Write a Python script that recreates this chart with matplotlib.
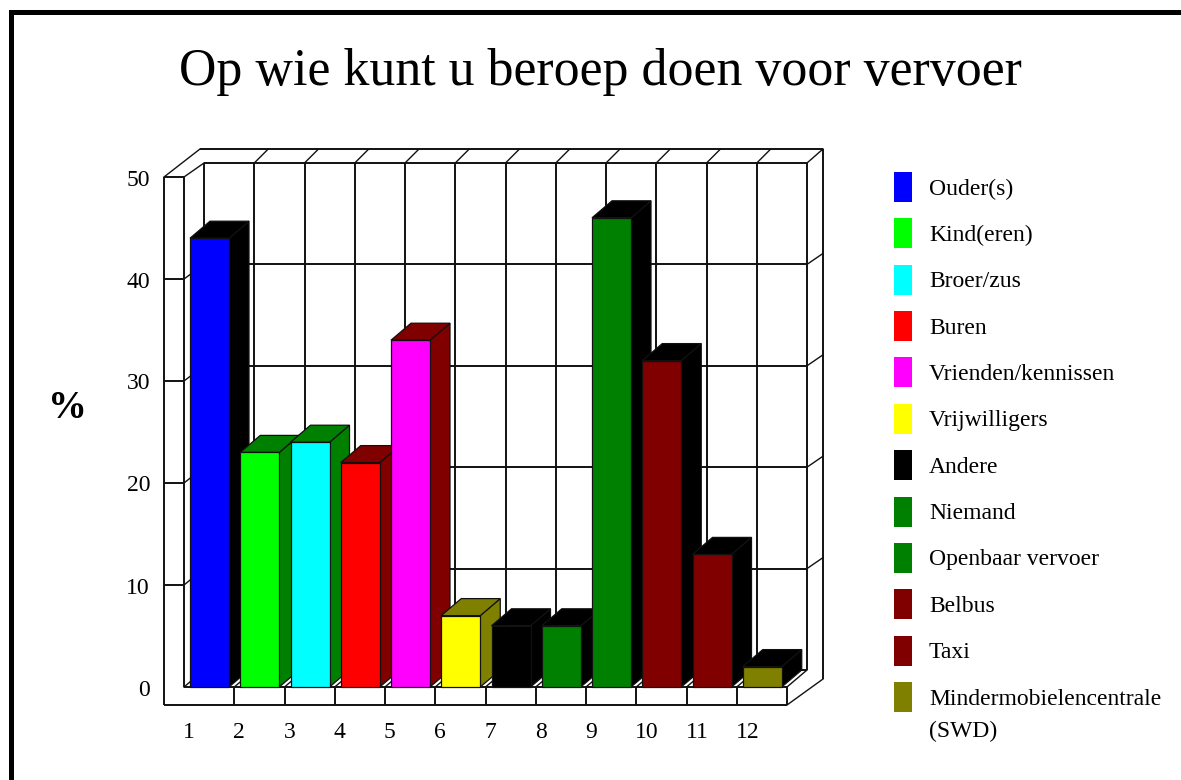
import matplotlib
matplotlib.use("Agg")
import matplotlib.pyplot as plt
from matplotlib.patches import Polygon, Rectangle

categories = ["1", "2", "3", "4", "5", "6", "7", "8", "9", "10", "11", "12"]
values = [44, 23, 24, 22, 34, 7, 6, 6, 46, 32, 13, 2]
front_colors = ["#0000ff", "#00ff00", "#00ffff", "#ff0000", "#ff00ff", "#ffff00",
                "#000000", "#008000", "#008000", "#800000", "#800000", "#808000"]
side_colors = ["#000000", "#008000", "#008000", "#800000", "#800000", "#808000",
               "#000000", "#000000", "#000000", "#000000", "#000000", "#000000"]
legend_labels = ["Ouder(s)", "Kind(eren)", "Broer/zus", "Buren", "Vrienden/kennissen",
                 "Vrijwilligers", "Andere", "Niemand", "Openbaar vervoer", "Belbus",
                 "Taxi", "Mindermobielencentrale\n(SWD)"]
legend_colors = ["#0000ff", "#00ff00", "#00ffff", "#ff0000", "#ff00ff", "#ffff00",
                 "#000000", "#008000", "#008000", "#800000", "#800000", "#808000"]
y_ticks = [0, 10, 20, 30, 40, 50]

W, H = 1181, 780
plt.rcParams["font.family"] = "Liberation Serif"
fig = plt.figure(figsize=(W / 100, H / 100), dpi=100)

# overlay in pixels for frame, title and legend
page = fig.add_axes([0, 0, 1, 1])
page.set_xlim(0, W)
page.set_ylim(H, 0)
page.axis("off")
page.add_patch(Rectangle((9, 10), W - 9, 5, color="black", lw=0))
page.add_patch(Rectangle((9, 10), 5, H - 10, color="black", lw=0))
page.text(600, 72, "Op wie kunt u beroep doen voor vervoer", fontsize=37.4, ha="center", va="center")
page.text(67, 409, "%", fontsize=28, fontweight="bold", ha="center", va="center")

for i, (lab, col) in enumerate(zip(legend_labels, legend_colors)):
    yc = 187 + i * 46.36
    page.add_patch(Rectangle((894, yc - 15), 18, 30, facecolor=col, edgecolor="none"))
    if "\n" in lab:
        page.text(929, yc - 8, lab, fontsize=17, va="top", linespacing=1.65)
    else:
        page.text(929, yc + 2, lab, fontsize=17, va="center")

# chart axes: front plane, one unit of x is one category slot
x0, x1 = 184, 787
y_base, y_top = 687, 177
ax = fig.add_axes([x0 / W, 1 - y_base / H, (x1 - x0) / W, (y_base - y_top) / H])
ax.set_xlim(0, 12)
ax.set_ylim(0, 50)
ax.axis("off")
ux = (x1 - x0) / 12
uy = (y_base - y_top) / 50

LINE = dict(color="#111111", lw=1.4, clip_on=False, solid_capstyle="butt", zorder=1)
DIAG = dict(color="#111111", lw=1.0, clip_on=False, zorder=1)
dx, dy = 20 / ux, 17 / uy
back_uy = 10.14 / uy  # back wall is a little shorter than the front


def back_y(v):
    return dy + v * back_uy


# walls and grid
for k in range(13):
    ax.plot([k + dx, k + dx], [back_y(0), back_y(50)], **LINE)
    ax.plot([k, k + dx], [0, back_y(0)], **DIAG)
    if k > 0:
        ax.plot([k + dx, k + dx + (16 if k == 12 else 14) / ux], [back_y(50), back_y(50) + 14 / uy], **DIAG)
        ax.plot([k, k], [0, -18 / uy], **LINE)

for v in y_ticks:
    ax.plot([dx, 12 + dx], [back_y(v), back_y(v)], **LINE)
    if v > 0:
        ax.plot([-20 / ux, 0], [v, v], **LINE)
        ax.plot([0, dx], [v, back_y(v)], **DIAG)
        if v < 50:
            ax.plot([12 + dx, 12 + dx + 16 / ux], [back_y(v), back_y(v) + 11 / uy], **DIAG)

left = -20 / ux
ax.plot([left, left], [-18 / uy, 50], **LINE)
ax.plot([0, 0], [0, 50], **LINE)
ax.plot([left, 12], [-18 / uy, -18 / uy], **LINE)
ax.plot([0, 12], [0, 0], **LINE)
ax.plot([left, left + 36 / ux], [50, 50 + 28 / uy], **DIAG)
ax.plot([left + 36 / ux, 12 + 36 / ux], [50 + 28 / uy, 50 + 28 / uy], **LINE)
ax.plot([12, 12 + 36 / ux], [-18 / uy, 8 / uy], **DIAG)
ax.plot([12 + 36 / ux, 12 + 36 / ux], [8 / uy, 50 + 28 / uy], **LINE)

# bars
bw = 39 / ux
pad = 6 / ux
for k, (v, fc, sc) in enumerate(zip(values, front_colors, side_colors)):
    l = k + pad
    r = l + bw
    edge = dict(edgecolor="#111111", lw=0.9, clip_on=False, zorder=3 + k)
    ax.add_patch(Polygon([(r, 0), (r + dx, dy), (r + dx, v + dy), (r, v)], facecolor=sc, **edge))
    ax.add_patch(Polygon([(l, v), (l + dx, v + dy), (r + dx, v + dy), (r, v)], facecolor=sc, **edge))
    ax.add_patch(Rectangle((l, 0), bw, v, facecolor=fc, **edge))

for k, lab in enumerate(categories):
    ax.text(k - 1 / ux, -45 / uy, lab, fontsize=17, ha="left", va="center", clip_on=False)
for v in y_ticks:
    ax.text(-34 / ux, v - 3 / uy, str(v), fontsize=17, ha="right", va="center", clip_on=False)

fig.savefig("out.png", dpi=100)
